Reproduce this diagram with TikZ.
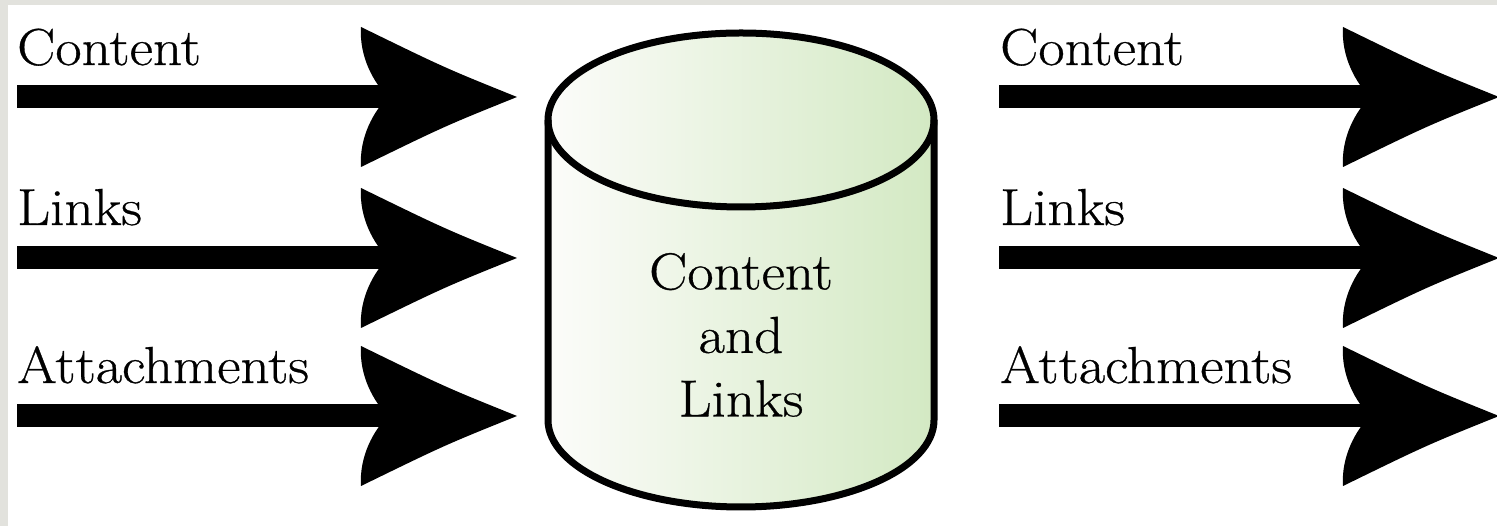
\documentclass[tikz,border=0pt]{standalone}
\usepackage{fontspec}
\setmainfont{Latin Modern Roman}[FakeStretch=1.1, FakeBold=0.6]
\usepackage{tikz}
\definecolor{bggray}{RGB}{226,226,221}
\definecolor{cylL}{RGB}{252,252,250}
\definecolor{cylR}{RGB}{211,233,195}
\tikzset{
  lbl/.style={anchor=base west, inner sep=0pt, font=\fontsize{52}{60}\selectfont},
  fatarrow/.pic={
    \fill[black] (-344,-11.5) rectangle (28,11.5);
    \fill[black] (156,0) .. controls (84,29) .. (0,70)
        .. controls (-2,40) and (13,14) .. (27,0)
        .. controls (13,-14) and (-2,-40) .. (0,-70)
        .. controls (84,-29) .. cycle;
  }
}
\begin{document}
\begin{tikzpicture}[x=1pt,y=1pt]
\useasboundingbox (0,0) rectangle (1497,526);
\fill[bggray] (0,0) rectangle (1497,526);
\fill[white] (8,0) rectangle (1497,520.5);
% left arrows
\pic (la1) at (361,429) {fatarrow};
\pic (la2) at (361,268) {fatarrow};
\pic (la3) at (361,110) {fatarrow};
% right arrows
\pic (ra1) at (1343,429) {fatarrow};
\pic (ra2) at (1343,268) {fatarrow};
\pic (ra3) at (1343,110) {fatarrow};
% labels
\node[lbl] (lt1) at (17,461) {Content};
\node[lbl] (lt2) at (17,301) {Links};
\node[lbl] (lt3) at (17,143) {Attachments};
\node[lbl] (rt1) at (1000,461) {Content};
\node[lbl] (rt2) at (1000,301) {Links};
\node[lbl] (rt3) at (1000,143) {Attachments};
% cylinder
\shade[left color=cylL, right color=cylR]
  (548,406) -- (548,106) arc[start angle=180, end angle=360, x radius=193pt, y radius=87pt]
  -- (934,406) arc[start angle=0, end angle=180, x radius=193pt, y radius=87pt] -- cycle;
\draw[line width=7pt]
  (548,406) -- (548,106) arc[start angle=180, end angle=360, x radius=193pt, y radius=87pt]
  -- (934,406);
\draw[line width=7pt] (741,406) ellipse[x radius=193pt, y radius=87pt];
\node[anchor=south, inner sep=0pt, align=center, font=\fontsize{52}{63.5}\selectfont] (db) at (741,109) {Content\\and\\Links};
\end{tikzpicture}
\end{document}
